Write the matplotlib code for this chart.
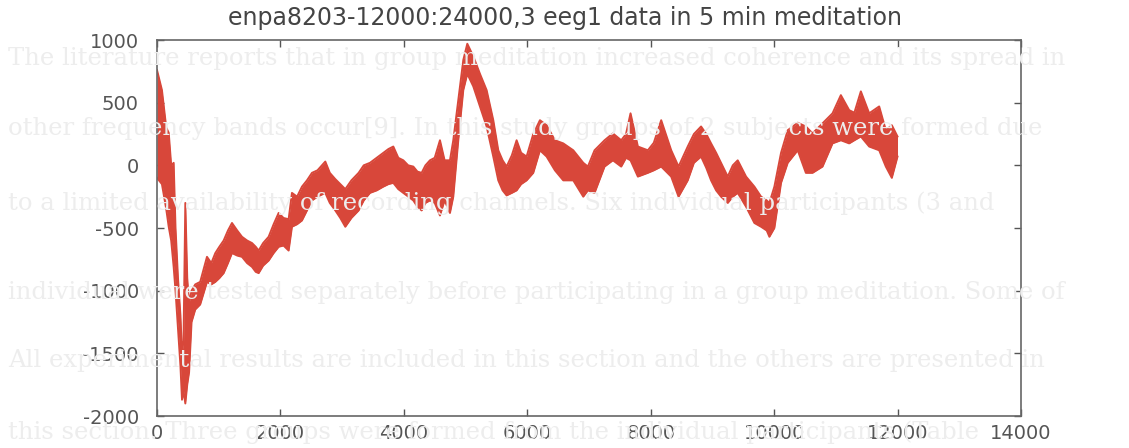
import matplotlib
matplotlib.use("Agg")
import matplotlib.pyplot as plt
import numpy as np

# envelope of the eeg trace (sample index, upper, lower)
sample_x = [0, 80, 150, 190, 230, 270, 300, 340, 380, 405, 430, 459, 490, 520, 560,
            620, 700, 810, 880, 945, 1010, 1080, 1150, 1215, 1300, 1377, 1460, 1539,
            1600, 1647, 1720, 1809, 1890, 1971, 2050, 2133, 2187, 2270, 2349, 2430,
            2511, 2600, 2727, 2800, 2889, 2970, 3051, 3150, 3267, 3350, 3451, 3560,
            3667, 3750, 3829, 3910, 3991, 4070, 4153, 4220, 4288, 4350, 4423, 4500,
            4585, 4660, 4747, 4801, 4882, 4963, 5028, 5125, 5233, 5341, 5449, 5530,
            5600, 5665, 5750, 5827, 5900, 5989, 6097, 6205, 6313, 6448, 6583, 6745,
            6907, 6982, 7090, 7252, 7387, 7522, 7600, 7673, 7792, 7954, 8050, 8170,
            8332, 8451, 8600, 8700, 8816, 8900, 8978, 9060, 9140, 9248, 9330, 9410,
            9545, 9680, 9788, 9880, 9923, 10004, 10112, 10220, 10382, 10514, 10622,
            10784, 10946, 11081, 11216, 11300, 11405, 11540, 11702, 11810, 11907, 11999]
upper = [760, 600, 300, 260, 0, 20, -500, -900, -1200, -1500, -1400, -300, -900, -1100,
         -1000, -950, -930, -730, -780, -700, -650, -600, -520, -460, -520, -570, -600,
         -620, -650, -680, -620, -570, -470, -380, -420, -430, -220, -250, -170, -120,
         -60, -40, 30, -60, -110, -150, -190, -120, -60, 0, 20, 60, 100, 130, 150, 60,
         40, 0, -10, -50, -60, 0, 40, 60, 200, 40, 40, 200, 520, 840, 970, 870, 730,
         600, 360, 120, 40, -10, 80, 200, 100, 70, 250, 360, 320, 200, 175, 120, 20,
         -10, 120, 200, 255, 200, 250, 415, 150, 120, 180, 360, 120, -10, 150, 250, 310,
         250, 175, 100, 20, -90, 0, 40, -90, -170, -250, -280, -300, -170, 100, 280,
         340, 310, 255, 335, 415, 560, 440, 420, 590, 415, 470, 280, 320, 230]
lower = [-100, -150, -350, -490, -600, -810, -1000, -1300, -1600, -1870, -1800, -1900,
         -1750, -1650, -1250, -1150, -1110, -930, -950, -930, -900, -860, -780, -700,
         -720, -730, -780, -810, -850, -860, -800, -760, -700, -650, -640, -680, -490,
         -470, -440, -360, -280, -250, -220, -300, -360, -420, -490, -420, -360, -280,
         -220, -200, -170, -150, -140, -190, -220, -250, -280, -330, -360, -300, -280,
         -300, -400, -280, -380, -250, 200, 600, 730, 630, 470, 310, 70, -120, -200,
         -240, -220, -200, -150, -120, -60, 120, 70, -40, -120, -120, -250, -200, -220,
         -10, 40, -10, 60, 40, -90, -60, -40, -10, -90, -250, -120, 20, 70, -20, -120,
         -200, -250, -300, -250, -220, -330, -460, -490, -520, -570, -500, -140, 20, 120,
         -60, -60, -10, 175, 200, 175, 200, 230, 150, 120, -10, -100, 70]

title = "enpa8203-12000:24000,3 eeg1 data in 5 min meditation"
xticks = [0, 2000, 4000, 6000, 8000, 10000, 12000, 14000]
yticks = [-2000, -1500, -1000, -500, 0, 500, 1000]

# faint page text showing through the scan
page_lines = [
    "The literature reports that in group meditation increased coherence and its spread in",
    "other frequency bands occur[9]. In this study groups of 2 subjects were formed due",
    "to a limited availability of recording channels. Six individual participants (3 and",
    "individual were tested separately before participating in a group meditation. Some of",
    "All experimental results are included in this section and the others are presented in",
    "this section. Three groups were formed from the individual participants (Table",
]
page_y = [58, 128, 203, 292, 360, 432]

red = "#d8473a"
W, H = 1129, 448
fig = plt.figure(figsize=(W / 100, H / 100), dpi=100)
fig.patch.set_facecolor("white")

for txt, yp in zip(page_lines, page_y):
    fig.text(8 / W, 1 - yp / H, txt, family="DejaVu Serif", fontsize=17.5,
             color="#ededed", va="center", ha="left", zorder=0)

ax = fig.add_axes([157 / W, 32 / H, 864 / W, 376 / H])
ax.set_facecolor("none")

ax.fill_between(sample_x, lower, upper, color=red, lw=0, zorder=2)
ax.plot(sample_x, upper, color=red, lw=1.4, zorder=2)
ax.plot(sample_x, lower, color=red, lw=1.4, zorder=2)

ax.set_xlim(0, 14000)
ax.set_ylim(-2000, 1000)
ax.set_xticks(xticks)
ax.set_yticks(yticks)
ax.set_xticklabels([str(v) for v in xticks])
ax.set_yticklabels([str(v) for v in yticks])
ax.tick_params(direction="in", length=5, width=1, color="#555",
               top=True, right=True, labelsize=14, labelcolor="#555")
ax.tick_params(axis="y", pad=13)
ax.tick_params(axis="x", pad=6)
for s in ax.spines.values():
    s.set_color("#666")
    s.set_linewidth(1.2)

fig.text(565 / W, 1 - 18 / H, title, fontsize=17, color="#444",
         ha="center", va="center")

fig.savefig("out.png", dpi=100)
